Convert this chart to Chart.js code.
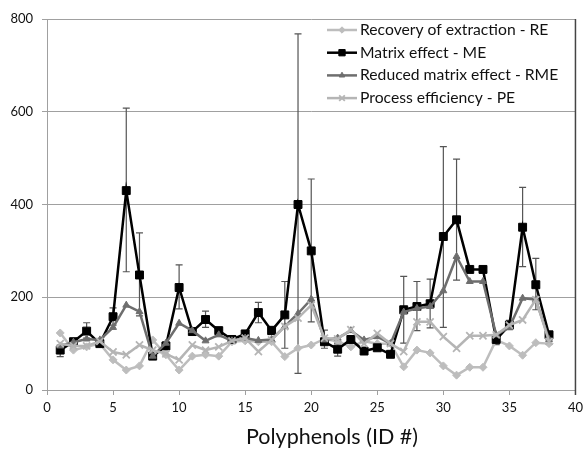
<!DOCTYPE html>
<html><head><meta charset="utf-8">
<script src="https://cdn.jsdelivr.net/npm/chart.js@4.4.1/dist/chart.umd.min.js"></script>
<style>html,body{margin:0;padding:0;background:#fff;}#wrap{width:588px;height:450px;}</style>
</head><body><div id="wrap"><canvas id="c" width="588" height="450"></canvas></div>
<script>
const ids = [1,2,3,4,5,6,7,8,9,10,11,12,13,14,15,16,17,18,19,20,21,22,23,24,25,26,27,28,29,30,31,32,33,34,35,36,37,38];
const seriesNames = ['Recovery of extraction - RE','Matrix effect - ME','Reduced matrix effect - RME','Process efficiency - PE'];
const reValues  = [123,86,93,100,65,43,52,108,76,43,73,76,73,104,106,104,104,72,90,97,110,105,93,105,100,100,50,86,80,52,32,49,49,108,95,75,102,100];
const meValues  = [86,104,127,100,158,430,248,73,95,221,126,152,128,109,121,167,128,162,400,300,104,88,109,84,91,77,173,180,186,331,367,260,260,109,140,351,227,119];
const rmeValues = [95,103,110,108,135,183,169,73,101,144,128,106,119,106,112,107,109,137,165,196,108,112,128,108,115,100,168,176,180,214,288,234,234,119,135,198,195,109];
const peValues  = [100,95,95,105,82,76,97,86,78,65,97,86,93,106,112,83,108,137,155,183,112,110,130,100,122,100,83,147,147,115,90,117,117,119,140,151,195,105];
const meHigh    = [97,112,145,106,177,608,339,80,104,270,134,170,135,114,125,189,137,234,768,455,129,100,114,88,96,82,245,234,239,525,498,265,265,115,150,437,284,126];
const meLow     = [72,98,112,96,140,255,160,68,88,175,120,135,122,104,116,145,120,90,36,147,90,73,104,80,86,72,101,128,134,135,237,255,255,98,130,266,173,110];
const xTicks = [0,5,10,15,20,25,30,35,40];
const yTicks = [0,200,400,600,800];
const xTitle = 'Polyphenols (ID #)';

const FONT = 'Lato, "Open Sans", sans-serif';
function pts(vals){ return ids.map((id,i)=>({x:id, y:vals[i]})); }

const styles = {
  RE:  {color:'#bdbdbd', pointStyle:'rectRot', radius:4, width:2.5},
  ME:  {color:'#000000', pointStyle:'rect', radius:5.6, width:2.5},
  RME: {color:'#6e6e6e', pointStyle:'triangle', radius:4, width:2.5},
  PE:  {color:'#b5b5b5', pointStyle:'crossRot', radius:5, width:2.5}
};
function ds(label, vals, st){
  return {label, data:pts(vals), borderColor:st.color, backgroundColor:st.color,
    borderWidth:st.width, pointStyle:st.pointStyle, pointRadius:st.radius,
    pointBorderColor:st.color, pointBackgroundColor:st.color,
    pointBorderWidth: st.pointStyle==='crossRot'?1.8:1, tension:0, fill:false};
}
// index 0 drawn on top -> PE on top, RE at bottom
const datasets = [
  ds(seriesNames[3], peValues, styles.PE),
  ds(seriesNames[2], rmeValues, styles.RME),
  ds(seriesNames[1], meValues, styles.ME),
  ds(seriesNames[0], reValues, styles.RE)
];

const errorBars = {
  id:'errorBars',
  beforeDatasetsDraw(chart){
    const {ctx, scales:{x,y}} = chart;
    ctx.save();
    ctx.strokeStyle = '#555';
    ctx.lineWidth = 1.2;
    ids.forEach((id,i)=>{
      const px = x.getPixelForValue(id);
      const yh = y.getPixelForValue(meHigh[i]);
      const yl = y.getPixelForValue(meLow[i]);
      ctx.beginPath();
      ctx.moveTo(px, yh); ctx.lineTo(px, yl);
      ctx.moveTo(px-3.5, yh); ctx.lineTo(px+3.5, yh);
      ctx.moveTo(px-3.5, yl); ctx.lineTo(px+3.5, yl);
      ctx.stroke();
    });
    ctx.restore();
  }
};

const decor = {
  id:'decor',
  afterDraw(chart){
    const {ctx, chartArea:a} = chart;
    ctx.save();
    ctx.strokeStyle = '#444'; ctx.lineWidth = 1.5;
    ctx.beginPath(); ctx.moveTo(a.right, a.top); ctx.lineTo(a.right, a.bottom+5); ctx.stroke();
    const order = [3,2,1,0];
    order.forEach((di,k)=>{
      const d = chart.data.datasets[di];
      const yy = 30 + k*22.7;
      ctx.strokeStyle = d.borderColor; ctx.lineWidth = 2.5;
      ctx.beginPath(); ctx.moveTo(327, yy); ctx.lineTo(357, yy); ctx.stroke();
      ctx.fillStyle = d.pointBackgroundColor; ctx.strokeStyle = d.pointBorderColor;
      ctx.lineWidth = d.pointBorderWidth;
      Chart.helpers.drawPoint(ctx, {pointStyle:d.pointStyle, radius:d.pointRadius*0.8, rotation:0, borderWidth:d.pointBorderWidth}, 342, yy);
      ctx.fillStyle = '#111'; ctx.font = '15.7px ' + FONT; ctx.textBaseline = 'middle'; ctx.textAlign = 'left';
      ctx.fillText(d.label, 360, yy);
    });
    ctx.fillStyle = '#111'; ctx.font = '21.5px ' + FONT; ctx.textAlign = 'center'; ctx.textBaseline = 'middle';
    ctx.fillText(xTitle, 332, 437);
    ctx.restore();
  }
};

new Chart(document.getElementById('c'), {
  type:'line',
  data:{datasets},
  options:{
    responsive:false, animation:false,
    layout:{padding:{top:19, right:6, left:0, bottom:0}},
    plugins:{legend:{display:false}, tooltip:{enabled:false}},
    scales:{
      x:{type:'linear', min:0, max:40,
        afterBuildTicks(s){ s.ticks = xTicks.map(v=>({value:v})); },
        afterFit(s){ s.height = 60; },
        grid:{drawOnChartArea:false, drawTicks:true, tickLength:5, color:'#a0a0a0'},
        border:{display:true, color:'#a0a0a0', width:1},
        ticks:{color:'#111', padding:5, font:{family:FONT, size:13}, maxRotation:0}
      },
      y:{min:0, max:800,
        afterBuildTicks(s){ s.ticks = yTicks.map(v=>({value:v})); },
        afterFit(s){ s.width = 47; },
        grid:{color:'#a0a0a0', lineWidth:1, drawTicks:true, tickLength:5},
        border:{display:true, color:'#a0a0a0', width:1},
        ticks:{color:'#111', padding:9, font:{family:FONT, size:13}}
      }
    }
  },
  plugins:[errorBars, decor]
});
</script></body></html>
